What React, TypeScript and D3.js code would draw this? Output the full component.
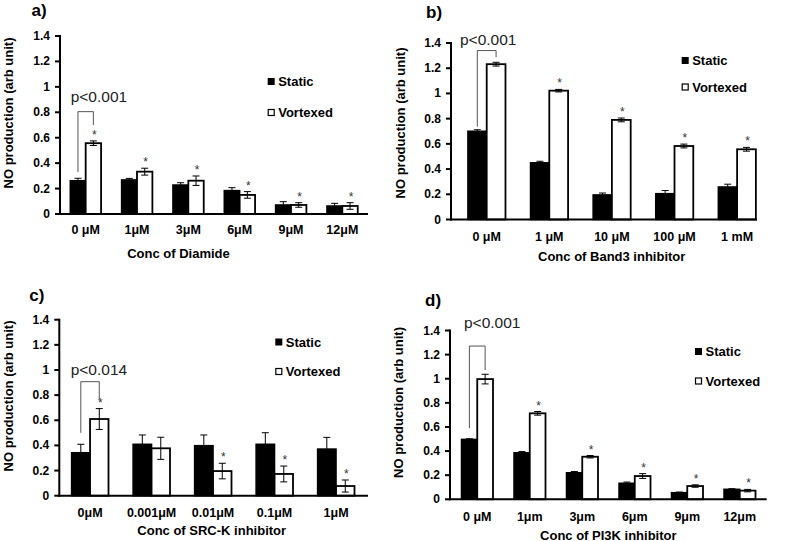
import React from "react";
import * as d3 from "d3";

const FONT = "'Liberation Sans', Arial, Helvetica, sans-serif";

// ---- Data ----
const yTicks = [0, 0.2, 0.4, 0.6, 0.8, 1, 1.2, 1.4];
const seriesNames = ["Static", "Vortexed"];

const catsA = ["0 μM", "1μM", "3μM", "6μM", "9μM", "12μM"];
const staticA = [0.262, 0.268, 0.228, 0.184, 0.071, 0.063];
const staticErrA = [0.019, 0.012, 0.018, 0.023, 0.026, 0.021];
const vortA = [0.557, 0.333, 0.262, 0.15, 0.071, 0.063];
const vortErrA = [0.018, 0.027, 0.037, 0.026, 0.018, 0.026];
const starsA = [true, true, true, true, true, true];

const catsB = ["0 μM", "1 μM", "10 μM", "100 μM", "1 mM"];
const staticB = [0.7, 0.45, 0.195, 0.205, 0.258];
const staticErrB = [0.012, 0.012, 0.015, 0.025, 0.022];
const vortB = [1.232, 1.022, 0.79, 0.583, 0.557];
const vortErrB = [0.015, 0.01, 0.015, 0.015, 0.015];
const starsB = [false, true, true, true, true];

const catsC = ["0μM", "0.001μM", "0.01μM", "0.1μM", "1μM"];
const staticC = [0.342, 0.409, 0.398, 0.409, 0.371];
const staticErrC = [0.067, 0.074, 0.085, 0.092, 0.093];
const vortC = [0.61, 0.377, 0.196, 0.173, 0.077];
const vortErrC = [0.083, 0.088, 0.062, 0.063, 0.048];
const starsC = [true, false, true, true, true];

const catsD = ["0 μM", "1μm", "3μm", "6μm", "9μm", "12μm"];
const staticD = [0.497, 0.386, 0.22, 0.133, 0.055, 0.083];
const staticErrD = [0.005, 0.01, 0.01, 0.01, 0.005, 0.005];
const vortD = [0.997, 0.713, 0.353, 0.193, 0.11, 0.072];
const vortErrD = [0.04, 0.015, 0.01, 0.02, 0.01, 0.01];
const starsD = [false, true, true, true, true, true];

const pTexts = ["p<0.001", "p<0.001", "p<0.014", "p<0.001"];
const xTitles = ["Conc of Diamide", "Conc of Band3 inhibitor", "Conc of SRC-K inhibitor", "Conc of PI3K inhibitor"];
const letters = ["a)", "b)", "c)", "d)"];
const yTitle = "NO production (arb unit)";
// bracket heights (data units): top, left bottom, right bottom
const bracketA = [0.805, 0.33, 0.7];
const bracketB = [1.34, 0.737, 1.287];
const bracketC = [0.907, 0.5, 0.761];
const bracketD = [1.271, 0.589, 1.072];

type Layout = {
  ax: number; y0: number; y14: number; xRange: [number, number]; axisEnd: number;
  xLabY: number; titleX: number; titleY: number; yTitleX: number; yTitleY: number;
  letterX: number; letterY: number; legX: number; legY1: number; legY2: number;
  pX: number; pY: number;
};

const layouts: Layout[] = [
  { ax: 60, y0: 214, y14: 36, xRange: [60, 368], axisEnd: 368, xLabY: 230, titleX: 178.5, titleY: 253,
    yTitleX: 8, yTitleY: 113, letterX: 31.5, letterY: 10, legX: 267.7, legY1: 81.5, legY2: 112.5, pX: 70.7, pY: 96.7 },
  { ax: 451, y0: 219.5, y14: 43, xRange: [455.4, 768.4], axisEnd: 757, xLabY: 237.3, titleX: 611.7, titleY: 256,
    yTitleX: 400, yTitleY: 123, letterX: 426, letterY: 12.7, legX: 681.7, legY1: 60.5, legY2: 87, pX: 460, pY: 39 },
  { ax: 59.3, y0: 495.7, y14: 319.7, xRange: [59.3, 366.8], axisEnd: 368, xLabY: 513.3, titleX: 211.7, titleY: 530.7,
    yTitleX: 8, yTitleY: 396, letterX: 29.3, letterY: 295, legX: 275.3, legY1: 342, legY2: 371.5, pX: 70.7, pY: 369 },
  { ax: 450, y0: 499.3, y14: 330.5, xRange: [451, 766], axisEnd: 766.7, xLabY: 516.7, titleX: 608.3, titleY: 535,
    yTitleX: 398, yTitleY: 402.5, letterX: 425, letterY: 300, legX: 695, legY1: 351.5, legY2: 381, pX: 464, pY: 322.7 },
];

type PanelData = {
  cats: string[]; st: number[]; stE: number[]; vo: number[]; voE: number[]; stars: boolean[]; bracket: number[];
};

const panels: PanelData[] = [
  { cats: catsA, st: staticA, stE: staticErrA, vo: vortA, voE: vortErrA, stars: starsA, bracket: bracketA },
  { cats: catsB, st: staticB, stE: staticErrB, vo: vortB, voE: vortErrB, stars: starsB, bracket: bracketB },
  { cats: catsC, st: staticC, stE: staticErrC, vo: vortC, voE: vortErrC, stars: starsC, bracket: bracketC },
  { cats: catsD, st: staticD, stE: staticErrD, vo: vortD, voE: vortErrD, stars: starsD, bracket: bracketD },
];

function Panel({ d, L, i }: { d: PanelData; L: Layout; i: number }) {
  const y = d3.scaleLinear().domain([0, 1.4]).range([L.y0, L.y14]);
  const x = d3.scaleBand<string>().domain(d.cats).range(L.xRange).paddingInner(0).paddingOuter(0);
  const bw = x.bandwidth() * 0.3;
  const cx = (c: string) => (x(c) as number) + x.bandwidth() / 2;
  const cap = 3.5;
  const errBar = (xc: number, v: number, e: number, key: string) => (
    <g key={key} stroke="#000" strokeWidth={1}>
      <line x1={xc} x2={xc} y1={y(v - e)} y2={y(v + e)} />
      <line x1={xc - cap} x2={xc + cap} y1={y(v + e)} y2={y(v + e)} />
      <line x1={xc - cap} x2={xc + cap} y1={y(v - e)} y2={y(v - e)} />
    </g>
  );
  const c0 = d.cats[0];
  const bl = cx(c0) - bw / 2;
  const br = cx(c0) + bw / 2;
  return (
    <g fontFamily={FONT}>
      <text x={L.letterX} y={L.letterY} dominantBaseline="central" fontSize={17} fontWeight="bold">{letters[i]}</text>
      <text transform={`translate(${L.yTitleX},${L.yTitleY}) rotate(-90)`} textAnchor="middle" dominantBaseline="central"
        fontSize={13} fontWeight="bold">{yTitle}</text>
      {/* bars */}
      {d.cats.map((c, j) => (
        <g key={c}>
          <rect x={cx(c) - bw} y={y(d.st[j])} width={bw} height={L.y0 - y(d.st[j])} fill="#000" stroke="#000" strokeWidth={1.5} />
          <rect x={cx(c)} y={y(d.vo[j])} width={bw} height={L.y0 - y(d.vo[j])} fill="#fff" stroke="#000" strokeWidth={1.8} />
          {errBar(cx(c) - bw / 2, d.st[j], d.stE[j], "s")}
          {errBar(cx(c) + bw / 2, d.vo[j], d.voE[j], "v")}
          {d.stars[j] && (
            <text x={cx(c) + bw / 2 + 1} y={y(d.vo[j] + d.voE[j]) - 8 + 6} textAnchor="middle" fontSize={12} fill="#333">*</text>
          )}
          <text x={cx(c)} y={L.xLabY} textAnchor="middle" dominantBaseline="central" fontSize={12.5} fontWeight="bold">{c}</text>
        </g>
      ))}
      {/* y axis */}
      <line x1={L.ax} x2={L.ax} y1={y(1.4) - 1} y2={L.y0 + 1} stroke="#000" strokeWidth={2} />
      {yTicks.map((t) => (
        <g key={t}>
          <line x1={L.ax - 5} x2={L.ax} y1={y(t)} y2={y(t)} stroke="#000" strokeWidth={2} />
          <text x={L.ax - 10} y={y(t)} textAnchor="end" dominantBaseline="central" fontSize={12} fontWeight="bold">
            {String(+t.toFixed(1))}
          </text>
        </g>
      ))}
      {/* x axis */}
      <line x1={L.ax - 1} x2={L.axisEnd} y1={L.y0} y2={L.y0} stroke="#000" strokeWidth={2} />
      <text x={L.titleX} y={L.titleY} textAnchor="middle" dominantBaseline="central" fontSize={13} fontWeight="bold">{xTitles[i]}</text>
      {/* bracket */}
      <path d={`M${bl},${y(d.bracket[1])}V${y(d.bracket[0])}H${br}V${y(d.bracket[2])}`} fill="none" stroke="#555" strokeWidth={1} />
      <text x={L.pX} y={L.pY} dominantBaseline="central" fontSize={15.5} fill="#222">{pTexts[i]}</text>
      {/* legend */}
      <rect x={L.legX} y={L.legY1 - 3.5} width={7} height={7} fill="#000" />
      <text x={L.legX + 10.5} y={L.legY1} dominantBaseline="central" fontSize={13} fontWeight="bold">{seriesNames[0]}</text>
      <rect x={L.legX + 0.5} y={L.legY2 - 3} width={6} height={6} fill="#fff" stroke="#000" strokeWidth={1.2} />
      <text x={L.legX + 10.5} y={L.legY2} dominantBaseline="central" fontSize={13} fontWeight="bold">{seriesNames[1]}</text>
    </g>
  );
}

export default function App() {
  return (
    <svg width={787} height={541} style={{ position: "absolute", left: 0, top: 0, background: "#fff" }}>
      <rect width={787} height={541} fill="#fff" />
      {panels.map((d, i) => (
        <Panel key={i} d={d} L={layouts[i]} i={i} />
      ))}
    </svg>
  );
}
